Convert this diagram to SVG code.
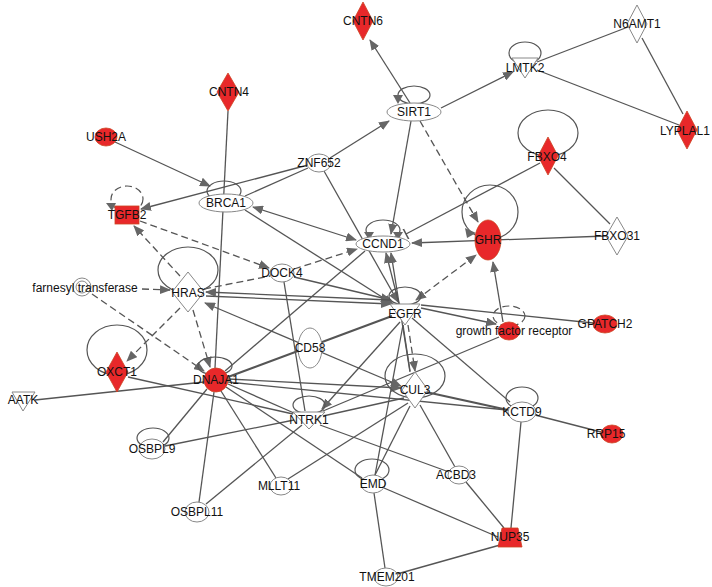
<svg xmlns="http://www.w3.org/2000/svg" width="712" height="587" viewBox="0 0 712 587">
<defs>
<marker id="a" markerUnits="userSpaceOnUse" markerWidth="11" markerHeight="9" refX="10" refY="4.5" orient="auto" viewBox="0 0 11 9"><path d="M0,0 L11,4.5 L0,9 z" fill="#666"/></marker>
<marker id="s" markerUnits="userSpaceOnUse" markerWidth="11" markerHeight="9" refX="1" refY="4.5" orient="auto" viewBox="0 0 11 9"><path d="M11,0 L0,4.5 L11,9 z" fill="#666"/></marker>
<marker id="t" markerUnits="userSpaceOnUse" markerWidth="4" markerHeight="12" refX="2" refY="6" orient="auto" viewBox="0 0 4 12"><path d="M2,0 L2,12" stroke="#555" stroke-width="1.5"/></marker>
<style>
.e{stroke:#555;stroke-width:1.3;fill:none}
.d{stroke-dasharray:7 4}
.k{stroke-width:2.2}
.w{fill:#fff;stroke:#888;stroke-width:1}
.r{fill:#e8282a;stroke:#c42;stroke-width:0.8}
.l{fill:none;stroke:#555;stroke-width:1.2}
.h{fill:#666}
text{font-family:"Liberation Sans",Arial,sans-serif;font-size:12px;fill:#111;text-anchor:middle}
</style>
</defs>
<rect width="712" height="587" fill="#fff"/>
<g id="edges">
<line class="e" x1="410" y1="103" x2="370" y2="40" marker-end="url(#a)"/>
<line class="e" x1="330" y1="158" x2="389" y2="121" marker-end="url(#a)"/>
<line class="e" x1="411" y1="121" x2="391" y2="234" marker-end="url(#a)"/>
<line class="e d" x1="420" y1="121" x2="478" y2="222" marker-end="url(#a)"/>
<line class="e" x1="441" y1="108" x2="513" y2="72" marker-end="url(#a)"/>
<line class="e" x1="537" y1="62" x2="628" y2="27"/>
<line class="e" x1="537" y1="70" x2="679" y2="125"/>
<line class="e" x1="642" y1="38" x2="683" y2="114"/>
<line class="e" x1="228" y1="111" x2="215" y2="368"/>
<line class="e" x1="115" y1="142" x2="210" y2="186" marker-end="url(#a)"/>
<line class="e" x1="308" y1="165" x2="141" y2="209" marker-end="url(#a)"/>
<line class="e" x1="308" y1="168" x2="245" y2="196"/>
<line class="e" x1="324" y1="171" x2="398" y2="302" marker-end="url(#a)"/>
<line class="e" x1="253" y1="207" x2="356" y2="240" marker-start="url(#s)" marker-end="url(#a)"/>
<line class="e" x1="245" y1="210" x2="393" y2="304" marker-end="url(#a)"/>
<line class="e d" x1="180" y1="276" x2="134" y2="226" marker-end="url(#a)"/>
<line class="e d" x1="140" y1="221" x2="269" y2="268" marker-end="url(#a)"/>
<line class="e d" x1="294" y1="269" x2="357" y2="249" marker-end="url(#a)"/>
<line class="e d" x1="204" y1="289" x2="270" y2="276"/>
<line class="e" x1="294" y1="277" x2="391" y2="300" marker-end="url(#a)"/>
<line class="e d" x1="142" y1="289" x2="170" y2="290" marker-end="url(#a)"/>
<line class="e d" x1="92" y1="294" x2="204" y2="371" marker-end="url(#a)"/>
<line class="e d" x1="193" y1="310" x2="210" y2="367" marker-end="url(#a)"/>
<line class="e d" x1="180" y1="308" x2="127" y2="361" marker-end="url(#a)"/>
<line class="e" x1="206" y1="296" x2="391" y2="304" marker-end="url(#a)"/>
<line class="e" x1="390" y1="300" x2="206" y2="292" marker-end="url(#a)"/>
<line class="e" x1="399" y1="304" x2="386" y2="253" marker-end="url(#a)"/>
<line class="e" x1="410" y1="372" x2="391" y2="253" marker-end="url(#a)"/>
<line class="e" x1="403" y1="325" x2="410" y2="371"/>
<line class="e d" x1="408" y1="325" x2="415" y2="371" marker-end="url(#a)"/>
<line class="e d" x1="416" y1="300" x2="476" y2="255" marker-start="url(#s)" marker-end="url(#a)"/>
<line class="e" x1="421" y1="308" x2="496" y2="324" marker-end="url(#a)"/>
<line class="e" x1="421" y1="305" x2="593" y2="323"/>
<line class="e" x1="412" y1="318" x2="510" y2="402"/>
<line class="e" x1="400" y1="322" x2="322" y2="409" marker-end="url(#a)"/>
<line class="e" x1="403" y1="325" x2="375" y2="475"/>
<line class="e k" x1="392" y1="316" x2="228" y2="377"/>
<line class="e" x1="606" y1="236" x2="412" y2="243" marker-end="url(#a)"/>
<line class="e" x1="540" y1="163" x2="406" y2="234" marker-end="url(#t)"/>
<line class="e" x1="554" y1="168" x2="610" y2="224"/>
<line class="e" x1="503" y1="322" x2="493" y2="262" marker-end="url(#a)"/>
<line class="e" x1="35" y1="400" x2="204" y2="382"/>
<line class="e" x1="207" y1="389" x2="163" y2="442"/>
<line class="e" x1="214" y1="392" x2="199" y2="502"/>
<line class="e" x1="221" y1="391" x2="276" y2="478"/>
<line class="e" x1="226" y1="387" x2="362" y2="478"/>
<line class="e" x1="228" y1="384" x2="294" y2="413"/>
<line class="e" x1="228" y1="382" x2="507" y2="410"/>
<line class="e" x1="228" y1="379" x2="401" y2="388" marker-end="url(#a)"/>
<line class="e" x1="365" y1="251" x2="225" y2="371"/>
<line class="e" x1="128" y1="377" x2="293" y2="414"/>
<line class="e" x1="284" y1="282" x2="305" y2="411"/>
<line class="e" x1="165" y1="446" x2="294" y2="420"/>
<line class="e" x1="206" y1="504" x2="302" y2="425"/>
<line class="e" x1="288" y1="479" x2="408" y2="403"/>
<line class="e" x1="320" y1="425" x2="449" y2="472"/>
<line class="e" x1="420" y1="405" x2="455" y2="467"/>
<line class="e" x1="410" y1="406" x2="375" y2="475"/>
<line class="e k" x1="426" y1="392" x2="508" y2="410"/>
<line class="e" x1="404" y1="398" x2="323" y2="416"/>
<line class="e" x1="499" y1="337" x2="323" y2="411"/>
<line class="e" x1="401" y1="386" x2="205" y2="303" marker-start="url(#s)" marker-end="url(#a)"/>
<line class="e" x1="535" y1="415" x2="601" y2="432"/>
<line class="e" x1="521" y1="422" x2="511" y2="528"/>
<line class="e" x1="384" y1="488" x2="498" y2="537"/>
<line class="e" x1="374" y1="493" x2="385" y2="568"/>
<line class="e" x1="397" y1="574" x2="500" y2="545"/>
<line class="e" x1="466" y1="482" x2="504" y2="528"/>
</g>
<g id="SIRT1"><ellipse class="l" cx="414" cy="95" rx="16" ry="9"/><polygon class="h" points="393,95 403,95 398,104"/><ellipse class="w" cx="414" cy="112" rx="27" ry="9"/><text x="414" y="116">SIRT1</text></g>
<g id="CNTN6"><polygon class="r" points="363,2 373,21 363,40 353,21"/><text x="363" y="25">CNTN6</text></g>
<g id="CNTN4"><polygon class="r" points="228,73 239,92 228,111 217,92"/><text x="229" y="96">CNTN4</text></g>
<g id="USH2A"><ellipse class="r" cx="106" cy="137" rx="11" ry="9"/><text x="106" y="141">USH2A</text></g>
<g id="LMTK2"><ellipse class="l" cx="525" cy="53" rx="16" ry="11"/><polygon class="w" points="512,58 538,58 525,78"/><text x="525" y="72">LMTK2</text></g>
<g id="N6AMT1"><polygon class="w" points="637,5 647,24 637,43 627,24"/><text x="637" y="28">N6AMT1</text></g>
<g id="LYPLAL1"><polygon class="r" points="687,111 697,130 687,149 677,130"/><text x="685" y="135">LYPLAL1</text></g>
<g id="FBXO4"><ellipse class="l" cx="548" cy="133" rx="30" ry="23"/><polygon class="r" points="548,137 558,156 548,175 538,156"/><text x="547" y="161">FBXO4</text></g>
<g id="FBXO31"><polygon class="w" points="617,217 628,236 617,255 606,236"/><text x="617" y="240">FBXO31</text></g>
<g id="GHR"><ellipse class="l" cx="490" cy="212" rx="28" ry="27"/><polygon class="h" points="465,228 476,233 467,238"/><ellipse class="r" cx="488" cy="240" rx="13" ry="20"/><text x="488" y="244">GHR</text></g>
<g id="CCND1"><ellipse class="l" cx="383" cy="230" rx="17" ry="10"/><polygon class="h" points="364,232 374,232 369,240"/><polygon class="h" points="393,232 403,232 398,240"/><ellipse class="w" cx="383" cy="244" rx="27" ry="8"/><text x="383" y="248">CCND1</text></g>
<g id="ZNF652"><ellipse class="w" cx="319" cy="163" rx="12" ry="9"/><text x="319" y="167">ZNF652</text></g>
<g id="BRCA1"><ellipse class="l" cx="224" cy="191" rx="17" ry="10"/><ellipse class="w" cx="226" cy="203" rx="27" ry="9"/><text x="226" y="207">BRCA1</text></g>
<g id="TGFB2"><ellipse class="l d" cx="127" cy="199" rx="16" ry="13"/><polygon class="h" points="106,203 116,203 112,211"/><rect class="r" x="115" y="206" width="24" height="18"/><text x="127" y="219">TGFB2</text></g>
<g id="DOCK4"><ellipse class="w" cx="282" cy="273" rx="12" ry="9"/><text x="282" y="277">DOCK4</text></g>
<g id="farnesyl"><circle class="w" cx="82" cy="287" r="9"/><circle class="w" cx="82" cy="287" r="6"/><text x="85" y="292">farnesyl transferase</text></g>
<g id="HRAS"><ellipse class="l" cx="188" cy="270" rx="30" ry="23"/><polygon class="w" points="188,272 204,292 188,312 172,292"/><text x="188" y="297">HRAS</text></g>
<g id="EGFR"><ellipse class="l" cx="405" cy="296" rx="16" ry="9"/><polygon class="w" points="390,304 420,304 405,325"/><text x="405" y="318">EGFR</text></g>
<g id="gfr"><ellipse class="l d" cx="509" cy="316" rx="16" ry="10"/><ellipse class="r" cx="509" cy="331" rx="11" ry="9"/><text x="514" y="335">growth factor receptor</text></g>
<g id="GPATCH2"><ellipse class="r" cx="605" cy="324" rx="12" ry="9"/><text x="605" y="328">GPATCH2</text></g>
<g id="OXCT1"><ellipse class="l" cx="117" cy="350" rx="30" ry="25"/><polygon class="r" points="117,352 128,372 117,392 106,372"/><text x="117" y="376">OXCT1</text></g>
<g id="DNAJA1"><ellipse class="l" cx="215" cy="366" rx="17" ry="9"/><circle class="r" cx="216" cy="380" r="12"/><text x="216" y="384">DNAJA1</text></g>
<g id="AATK"><polygon class="w" points="12,392 35,392 23,411"/><text x="23" y="404">AATK</text></g>
<g id="CD58"><ellipse class="w" cx="310" cy="348" rx="12" ry="20"/><text x="310" y="352">CD58</text></g>
<g id="CUL3"><ellipse class="l" cx="415" cy="376" rx="30" ry="22"/><polygon class="w" points="415,372 428,390 415,408 402,390"/><text x="415" y="394">CUL3</text></g>
<g id="NTRK1"><ellipse class="l" cx="309" cy="405" rx="16" ry="9"/><polygon class="w" points="293,412 325,412 309,429"/><text x="309" y="424">NTRK1</text></g>
<g id="KCTD9"><ellipse class="l" cx="522" cy="398" rx="16" ry="11"/><ellipse class="w" cx="522" cy="412" rx="14" ry="10"/><text x="522" y="416">KCTD9</text></g>
<g id="RRP15"><ellipse class="r" cx="612" cy="434" rx="11" ry="9"/><text x="606" y="438">RRP15</text></g>
<g id="OSBPL9"><ellipse class="l" cx="153" cy="438" rx="16" ry="10"/><ellipse class="w" cx="152" cy="449" rx="13" ry="10"/><text x="152" y="453">OSBPL9</text></g>
<g id="OSBPL11"><ellipse class="w" cx="197" cy="512" rx="12" ry="10"/><text x="197" y="516">OSBPL11</text></g>
<g id="MLLT11"><ellipse class="w" cx="281" cy="486" rx="11" ry="9"/><text x="279" y="490">MLLT11</text></g>
<g id="EMD"><ellipse class="l" cx="372" cy="470" rx="17" ry="11"/><ellipse class="w" cx="373" cy="484" rx="12" ry="9"/><text x="373" y="488">EMD</text></g>
<g id="ACBD3"><ellipse class="w" cx="459" cy="475" rx="11" ry="9"/><text x="456" y="479">ACBD3</text></g>
<g id="TMEM201"><ellipse class="w" cx="386" cy="577" rx="12" ry="9"/><text x="387" y="581">TMEM201</text></g>
<g id="NUP35"><polygon class="r" points="502,528 518,528 522,547 498,547"/><text x="510" y="541">NUP35</text></g>
</svg>
